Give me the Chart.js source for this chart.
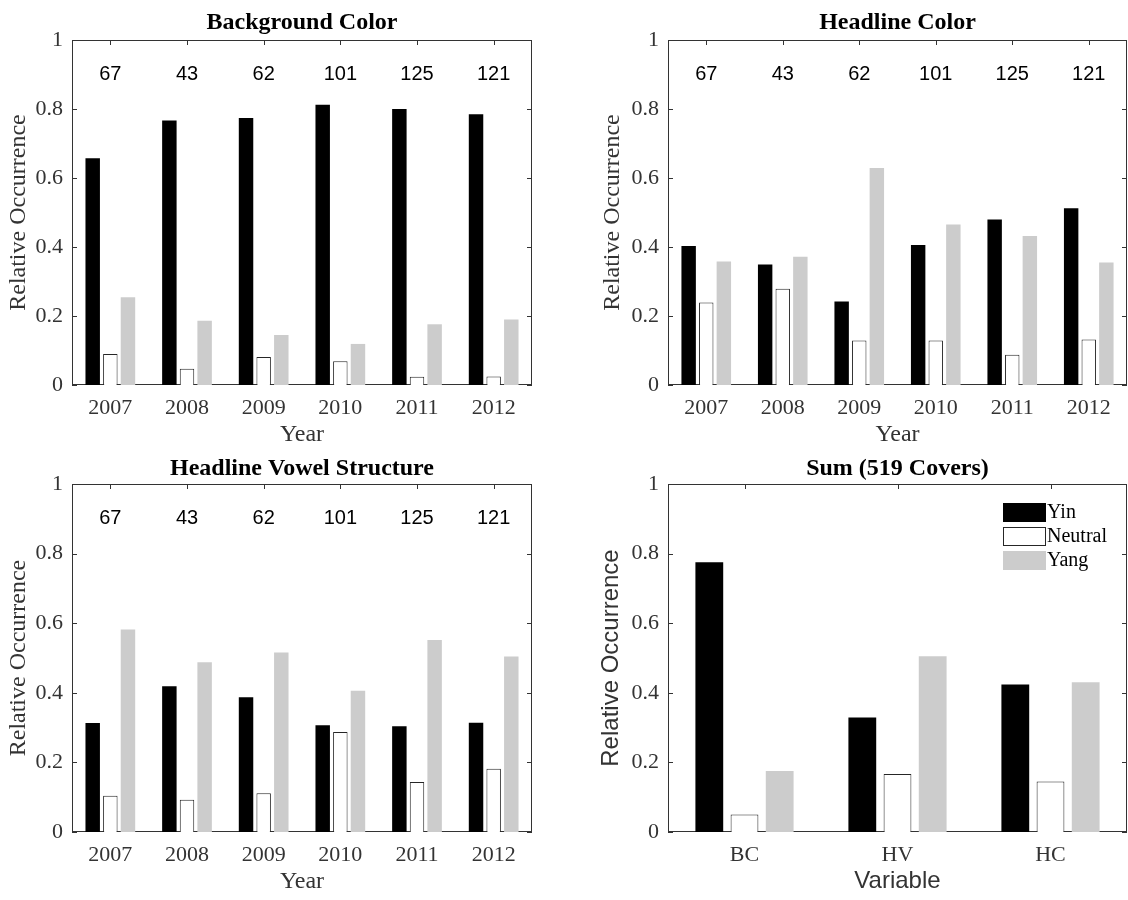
<!DOCTYPE html>
<html><head><meta charset="utf-8">
<script src="https://cdn.jsdelivr.net/npm/chart.js@4/dist/chart.umd.min.js"></script>
<style>
html,body{margin:0;padding:0;background:#fff;}
#wrap{position:relative;width:1128px;height:900px;background:#fff;}
.cell{position:absolute;width:564px;height:450px;}
canvas{display:block;}
</style></head><body>
<div id="wrap">
<div class="cell" style="left:0;top:0"><canvas id="c1" width="564" height="450"></canvas></div>
<div class="cell" style="left:564px;top:0"><canvas id="c2" width="564" height="450"></canvas></div>
<div class="cell" style="left:0;top:450px"><canvas id="c3" width="564" height="450"></canvas></div>
<div class="cell" style="left:564px;top:450px"><canvas id="c4" width="564" height="450"></canvas></div>
</div>
<script>
// ---- data ----
const years = ['2007','2008','2009','2010','2011','2012'];
const coverCounts = [67, 43, 62, 101, 125, 121];
const seriesNames = ['Yin', 'Neutral', 'Yang'];

const bgYin     = [0.657, 0.767, 0.774, 0.812, 0.800, 0.785];
const bgNeutral = [0.090, 0.047, 0.081, 0.069, 0.024, 0.025];
const bgYang    = [0.254, 0.186, 0.145, 0.119, 0.176, 0.190];

const hcYin     = [0.403, 0.349, 0.242, 0.406, 0.480, 0.512];
const hcNeutral = [0.239, 0.279, 0.129, 0.129, 0.088, 0.132];
const hcYang    = [0.358, 0.372, 0.629, 0.465, 0.432, 0.355];

const hvYin     = [0.313, 0.419, 0.387, 0.307, 0.304, 0.314];
const hvNeutral = [0.104, 0.093, 0.111, 0.287, 0.144, 0.182];
const hvYang    = [0.582, 0.488, 0.516, 0.406, 0.552, 0.504];

const sumLabels  = ['BC', 'HV', 'HC'];
const sumYin     = [0.775, 0.329, 0.424];
const sumNeutral = [0.050, 0.167, 0.145];
const sumYang    = [0.175, 0.505, 0.430];

const yTicks = [0, 0.2, 0.4, 0.6, 0.8, 1];

// ---- styling ----
const SERIF = '"Liberation Serif", "Times New Roman", serif';
const SANS = '"Liberation Sans", Arial, sans-serif';
const AXC = '#333333';
const COLORS = {yin:'#000000', neutral:'#ffffff', yang:'#cccccc', edge:'#262626'};

const framePlugin = {
  id: 'frame',
  beforeDatasetsDraw(chart, args, o) {
    const ctx = chart.ctx;
    const {left, right, top, bottom} = chart.chartArea;
    const x = chart.scales.x, y = chart.scales.y;
    ctx.save();
    ctx.strokeStyle = AXC;
    ctx.lineWidth = 1;
    ctx.beginPath();
    y.ticks.forEach(t => {
      const py = Math.round(y.getPixelForValue(t.value)) + 0.5;
      ctx.moveTo(left, py); ctx.lineTo(left + 5, py);
      ctx.moveTo(right - 5, py); ctx.lineTo(right, py);
    });
    x.ticks.forEach((t, i) => {
      const px = Math.round(x.getPixelForValue(i)) + 0.5;
      ctx.moveTo(px, top); ctx.lineTo(px, top + 5);
      ctx.moveTo(px, bottom); ctx.lineTo(px, bottom - 5);
    });
    ctx.stroke();
    ctx.strokeRect(Math.round(left) + 0.5, Math.round(top) + 0.5,
                   Math.round(right - left) - 1, Math.round(bottom - top) - 1);
    ctx.restore();
  },
  afterDatasetsDraw(chart, args, o) {
    const ctx = chart.ctx;
    const {left, right, top} = chart.chartArea;
    const x = chart.scales.x, y = chart.scales.y;
    ctx.save();
    // title
    ctx.fillStyle = '#000';
    ctx.font = 'bold 24px ' + SERIF;
    ctx.textAlign = 'center';
    ctx.textBaseline = 'alphabetic';
    ctx.fillText(o.title, (left + right) / 2, top - o.titleGap);
    // counts
    if (o.counts) {
      ctx.font = '20px ' + SANS;
      ctx.textBaseline = 'middle';
      o.counts.forEach((c, i) => {
        ctx.fillText(String(c), x.getPixelForValue(i), y.getPixelForValue(0.9));
      });
    }
    // legend
    if (o.legend) {
      const sx = right - 124;
      chart.data.datasets.forEach((ds, i) => {
        const sy = top + 19 + i * 24;
        ctx.fillStyle = ds.backgroundColor;
        ctx.fillRect(sx, sy, 43, 19);
        if (ds.borderWidth) {
          ctx.strokeStyle = ds.borderColor;
          ctx.lineWidth = 1;
          ctx.strokeRect(sx + 0.5, sy + 0.5, 42, 18);
        }
        ctx.fillStyle = '#000';
        ctx.font = '20px ' + SERIF;
        ctx.textAlign = 'left';
        ctx.textBaseline = 'middle';
        ctx.fillText(ds.label, sx + 44, sy + 10);
      });
    }
    ctx.restore();
  }
};

function makeChart(id, labels, yin, neu, yang, cfg) {
  const common = {categoryPercentage: cfg.cp, barPercentage: cfg.bp};
  return new Chart(document.getElementById(id), {
    type: 'bar',
    data: {
      labels: labels,
      datasets: [
        Object.assign({label: seriesNames[0], data: yin, backgroundColor: COLORS.yin, borderWidth: 0}, common),
        Object.assign({label: seriesNames[1], data: neu, backgroundColor: COLORS.neutral, borderColor: COLORS.edge, borderWidth: 1}, common),
        Object.assign({label: seriesNames[2], data: yang, backgroundColor: COLORS.yang, borderWidth: 0}, common)
      ]
    },
    plugins: [framePlugin],
    options: {
      responsive: false,
      animation: false,
      devicePixelRatio: 1,
      layout: {padding: {top: cfg.top, right: cfg.right, left: 0, bottom: 0}},
      plugins: {
        legend: {display: false},
        tooltip: {enabled: false},
        title: {display: false},
        frame: {title: cfg.title, titleGap: cfg.titleGap, counts: cfg.counts, legend: cfg.legend}
      },
      scales: {
        x: {
          grid: {display: false, drawTicks: false},
          border: {display: false},
          ticks: {font: {family: SERIF, size: 22}, color: AXC, padding: 10, maxRotation: 0, autoSkip: false},
          title: {display: true, text: cfg.xTitle, font: {family: cfg.axisFont, size: 24}, color: AXC,
                  padding: {top: 0, bottom: cfg.xTitlePad}},
          afterFit(s) { s.height = cfg.xh; }
        },
        y: {
          min: 0, max: 1,
          afterBuildTicks(s) { s.ticks = yTicks.map(v => ({value: v})); },
          grid: {display: false, drawTicks: false},
          border: {display: false},
          ticks: {font: {family: SERIF, size: 22}, color: AXC, padding: 9,
                  callback: v => String(Math.round(v * 10) / 10)},
          title: {display: true, text: 'Relative Occurrence', font: {family: cfg.axisFont, size: 24}, color: AXC,
                  padding: {top: cfg.yTitlePad, bottom: 0}},
          afterFit(s) { s.width = cfg.leftW; }
        }
      }
    }
  });
}

function build() {
  makeChart('c1', years, bgYin, bgNeutral, bgYang, {
    title: 'Background Color', titleGap: 11, top: 40, right: 32, xh: 65, leftW: 72,
    xTitle: 'Year', axisFont: SERIF, xTitlePad: 1, yTitlePad: 4, counts: coverCounts, legend: false, cp: 0.69, bp: 0.82
  });
  makeChart('c2', years, hcYin, hcNeutral, hcYang, {
    title: 'Headline Color', titleGap: 11, top: 40, right: 1, xh: 65, leftW: 104,
    xTitle: 'Year', axisFont: SERIF, xTitlePad: 1, yTitlePad: 34, counts: coverCounts, legend: false, cp: 0.69, bp: 0.82
  });
  makeChart('c3', years, hvYin, hvNeutral, hvYang, {
    title: 'Headline Vowel Structure', titleGap: 9, top: 34, right: 32, xh: 68, leftW: 72,
    xTitle: 'Year', axisFont: SERIF, xTitlePad: 4, yTitlePad: 4, counts: coverCounts, legend: false, cp: 0.69, bp: 0.82
  });
  makeChart('c4', sumLabels, sumYin, sumNeutral, sumYang, {
    title: 'Sum (519 Covers)', titleGap: 9, top: 34, right: 1, xh: 68, leftW: 104,
    xTitle: 'Variable', axisFont: SANS, xTitlePad: 4, yTitlePad: 33, counts: null, legend: true, cp: 0.69, bp: 0.79
  });
}

if (document.fonts && document.fonts.load) {
  Promise.all([
    document.fonts.load('22px "Liberation Serif"'),
    document.fonts.load('bold 24px "Liberation Serif"'),
    document.fonts.load('20px "Liberation Sans"')
  ]).then(build, build);
} else {
  build();
}
</script>
</body></html>
